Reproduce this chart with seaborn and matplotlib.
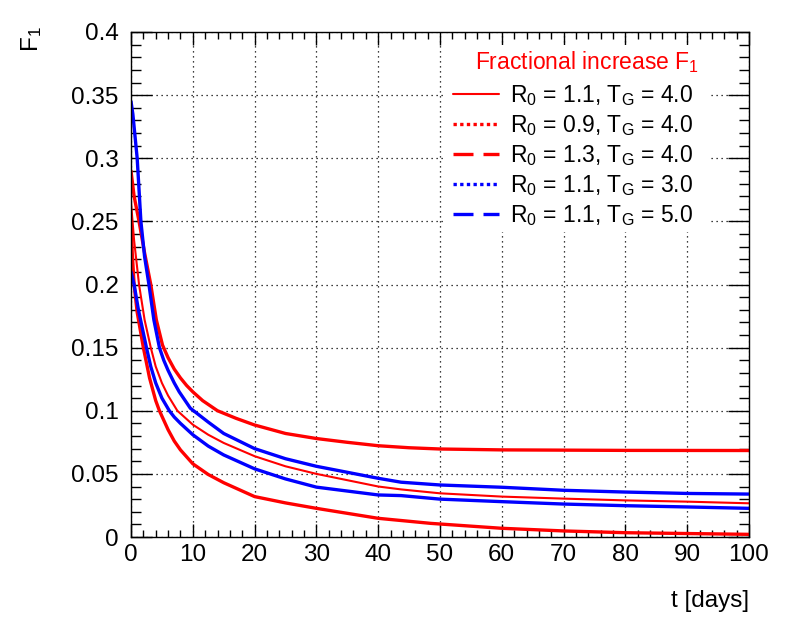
import matplotlib
matplotlib.use("Agg")
import matplotlib.pyplot as plt
import seaborn as sns
import pandas as pd
from matplotlib.lines import Line2D
from matplotlib.patches import Rectangle
from matplotlib.ticker import MultipleLocator, FuncFormatter

# valeurs
t_r13 = [0, 0.5, 1.3, 2.2, 3.2, 4.1, 5.1, 6, 7, 8, 9, 10, 11.6, 14, 17, 20, 25, 30, 35, 40, 45, 50, 60, 70, 80, 100]
f_r13 = [0.29, 0.27, 0.25, 0.225, 0.20, 0.172, 0.152, 0.142, 0.133, 0.126, 0.120, 0.115, 0.108, 0.100, 0.094, 0.0887, 0.082, 0.078, 0.075, 0.0723, 0.0707, 0.0697, 0.069, 0.0688, 0.0686, 0.0685]

t_r11 = [0, 0.5, 1.3, 2.2, 3.2, 4, 5, 6, 7.5, 10, 12.5, 15, 20, 25, 30, 40, 43.7, 50, 60, 70, 80, 90, 100]
f_r11 = [0.265, 0.235, 0.20, 0.172, 0.15, 0.135, 0.122, 0.112, 0.100, 0.089, 0.081, 0.0745, 0.064, 0.056, 0.050, 0.040, 0.0377, 0.0346, 0.032, 0.0304, 0.029, 0.028, 0.0267]

t_r09 = [0, 0.2, 0.5, 1, 2, 3, 4, 4.6, 6, 7, 8, 10, 12.5, 15, 20, 25, 30, 40, 48.5, 60, 70, 80, 100]
f_r09 = [0.255, 0.225, 0.20, 0.178, 0.15, 0.126, 0.108, 0.100, 0.085, 0.076, 0.069, 0.058, 0.0495, 0.043, 0.032, 0.027, 0.0227, 0.0148, 0.0108, 0.0069, 0.0048, 0.0034, 0.0021]

t_b3 = [0, 0.3, 1, 1.6, 2.2, 2.9, 3.7, 4.6, 5.3, 6, 7, 7.8, 9.6, 12.5, 15, 20, 25, 30, 40, 43.7, 50, 60, 70, 80, 90, 100]
f_b3 = [0.345, 0.335, 0.30, 0.25, 0.222, 0.20, 0.172, 0.15, 0.140, 0.132, 0.122, 0.115, 0.102, 0.091, 0.082, 0.070, 0.062, 0.056, 0.0465, 0.0434, 0.0412, 0.0394, 0.037, 0.0356, 0.0345, 0.034]

t_b5 = [0, 0.5, 1.2, 2.5, 3.2, 4, 5, 6.2, 7, 8, 10, 12.5, 15, 20, 25, 30, 40, 43.7, 50, 60, 70, 80, 90, 100]
f_b5 = [0.21, 0.20, 0.18, 0.15, 0.135, 0.122, 0.110, 0.100, 0.095, 0.090, 0.081, 0.072, 0.065, 0.054, 0.046, 0.0395, 0.0333, 0.0328, 0.030, 0.028, 0.0261, 0.0248, 0.0238, 0.0227]

labels = [r"R$_0$ = 1.1, T$_\mathrm{G}$ = 4.0",
          r"R$_0$ = 0.9, T$_\mathrm{G}$ = 4.0",
          r"R$_0$ = 1.3, T$_\mathrm{G}$ = 4.0",
          r"R$_0$ = 1.1, T$_\mathrm{G}$ = 3.0",
          r"R$_0$ = 1.1, T$_\mathrm{G}$ = 5.0"]

sns.set_style("ticks")
plt.rcParams["font.family"] = ["Liberation Sans", "DejaVu Sans"]
plt.rcParams["mathtext.fontset"] = "custom"
plt.rcParams["mathtext.rm"] = "Liberation Sans"
plt.rcParams["mathtext.it"] = "Liberation Sans:italic"
plt.rcParams["mathtext.bf"] = "Liberation Sans:bold"
plt.rcParams["text.color"] = "black"
plt.rcParams["xtick.color"] = "black"
plt.rcParams["ytick.color"] = "black"
plt.rcParams["axes.labelcolor"] = "black"

fs = 17.5
fs_leg = 16.5

fig = plt.figure(figsize=(7.96, 6.22), dpi=100)
ax = fig.add_axes([131 / 796, 1 - 537 / 622, (749 - 131) / 796, (537 - 32) / 622])

courbes = [
    (t_r11, f_r11, "red", 1.5),
    (t_r09, f_r09, "red", 2.4),
    (t_r13, f_r13, "red", 2.4),
    (t_b3, f_b3, "blue", 2.4),
    (t_b5, f_b5, "blue", 2.4),
]
for t, f, c, lw in courbes:
    df = pd.DataFrame({"t": t, "F1": f})
    sns.lineplot(data=df, x="t", y="F1", color=c, lw=lw, ax=ax, legend=False)

ax.set_xlim(0, 100)
ax.set_ylim(0, 0.4)
ax.xaxis.set_major_locator(MultipleLocator(10))
ax.xaxis.set_minor_locator(MultipleLocator(2))
ax.yaxis.set_major_locator(MultipleLocator(0.05))
ax.yaxis.set_minor_locator(MultipleLocator(0.01))
ax.yaxis.set_major_formatter(FuncFormatter(lambda v, p: f"{v:g}"))
ax.tick_params(axis="both", which="both", direction="in", top=True, right=True, labelsize=fs, width=1)
ax.tick_params(axis="x", which="major", length=9.5, pad=5)
ax.tick_params(axis="x", which="minor", length=4.8)
ax.tick_params(axis="y", which="major", length=15, pad=9)
ax.tick_params(axis="y", which="minor", length=7.5)
ax.grid(True, which="major", color="black", linestyle=(0, (1, 3)), linewidth=0.9)
for s in ax.spines.values():
    s.set_linewidth(1.0)
    s.set_color("black")
ax.set_xlabel("")
ax.set_ylabel("")

# fond blanc de la légende (cache la grille)
ax.add_patch(Rectangle((445 / 796, 1 - 232 / 622), (708 - 445) / 796, (232 - 45) / 622,
                       transform=fig.transFigure, facecolor="white", edgecolor="none", zorder=1))

fig.text(32 / 796, 1 - 26 / 622, r"F$_1$", rotation=90, ha="center", va="top", fontsize=fs)
fig.text(749 / 796, 1 - 601 / 622, "t [days]", ha="right", va="center", fontsize=fs)
fig.text(587 / 796, 1 - 62 / 622, r"Fractional increase F$_1$", ha="center", va="center",
         fontsize=fs_leg, color="red")

handles = [
    Line2D([], [], color="red", lw=1.5, ls="-"),
    Line2D([], [], color="red", lw=2.4, ls=(0, (1, 1))),
    Line2D([], [], color="red", lw=2.4, ls=(0, (6, 3))),
    Line2D([], [], color="blue", lw=2.4, ls=(0, (1, 1))),
    Line2D([], [], color="blue", lw=2.4, ls=(0, (6, 3))),
]
leg = ax.legend(handles, labels, loc="upper left", bbox_to_anchor=(453 / 796, 1 - 83 / 622),
                bbox_transform=fig.transFigure, frameon=False, fontsize=fs_leg,
                handlelength=2.0, handletextpad=0.5, labelspacing=0.22, borderpad=0, borderaxespad=0)

fig.savefig("out.png", dpi=100)
